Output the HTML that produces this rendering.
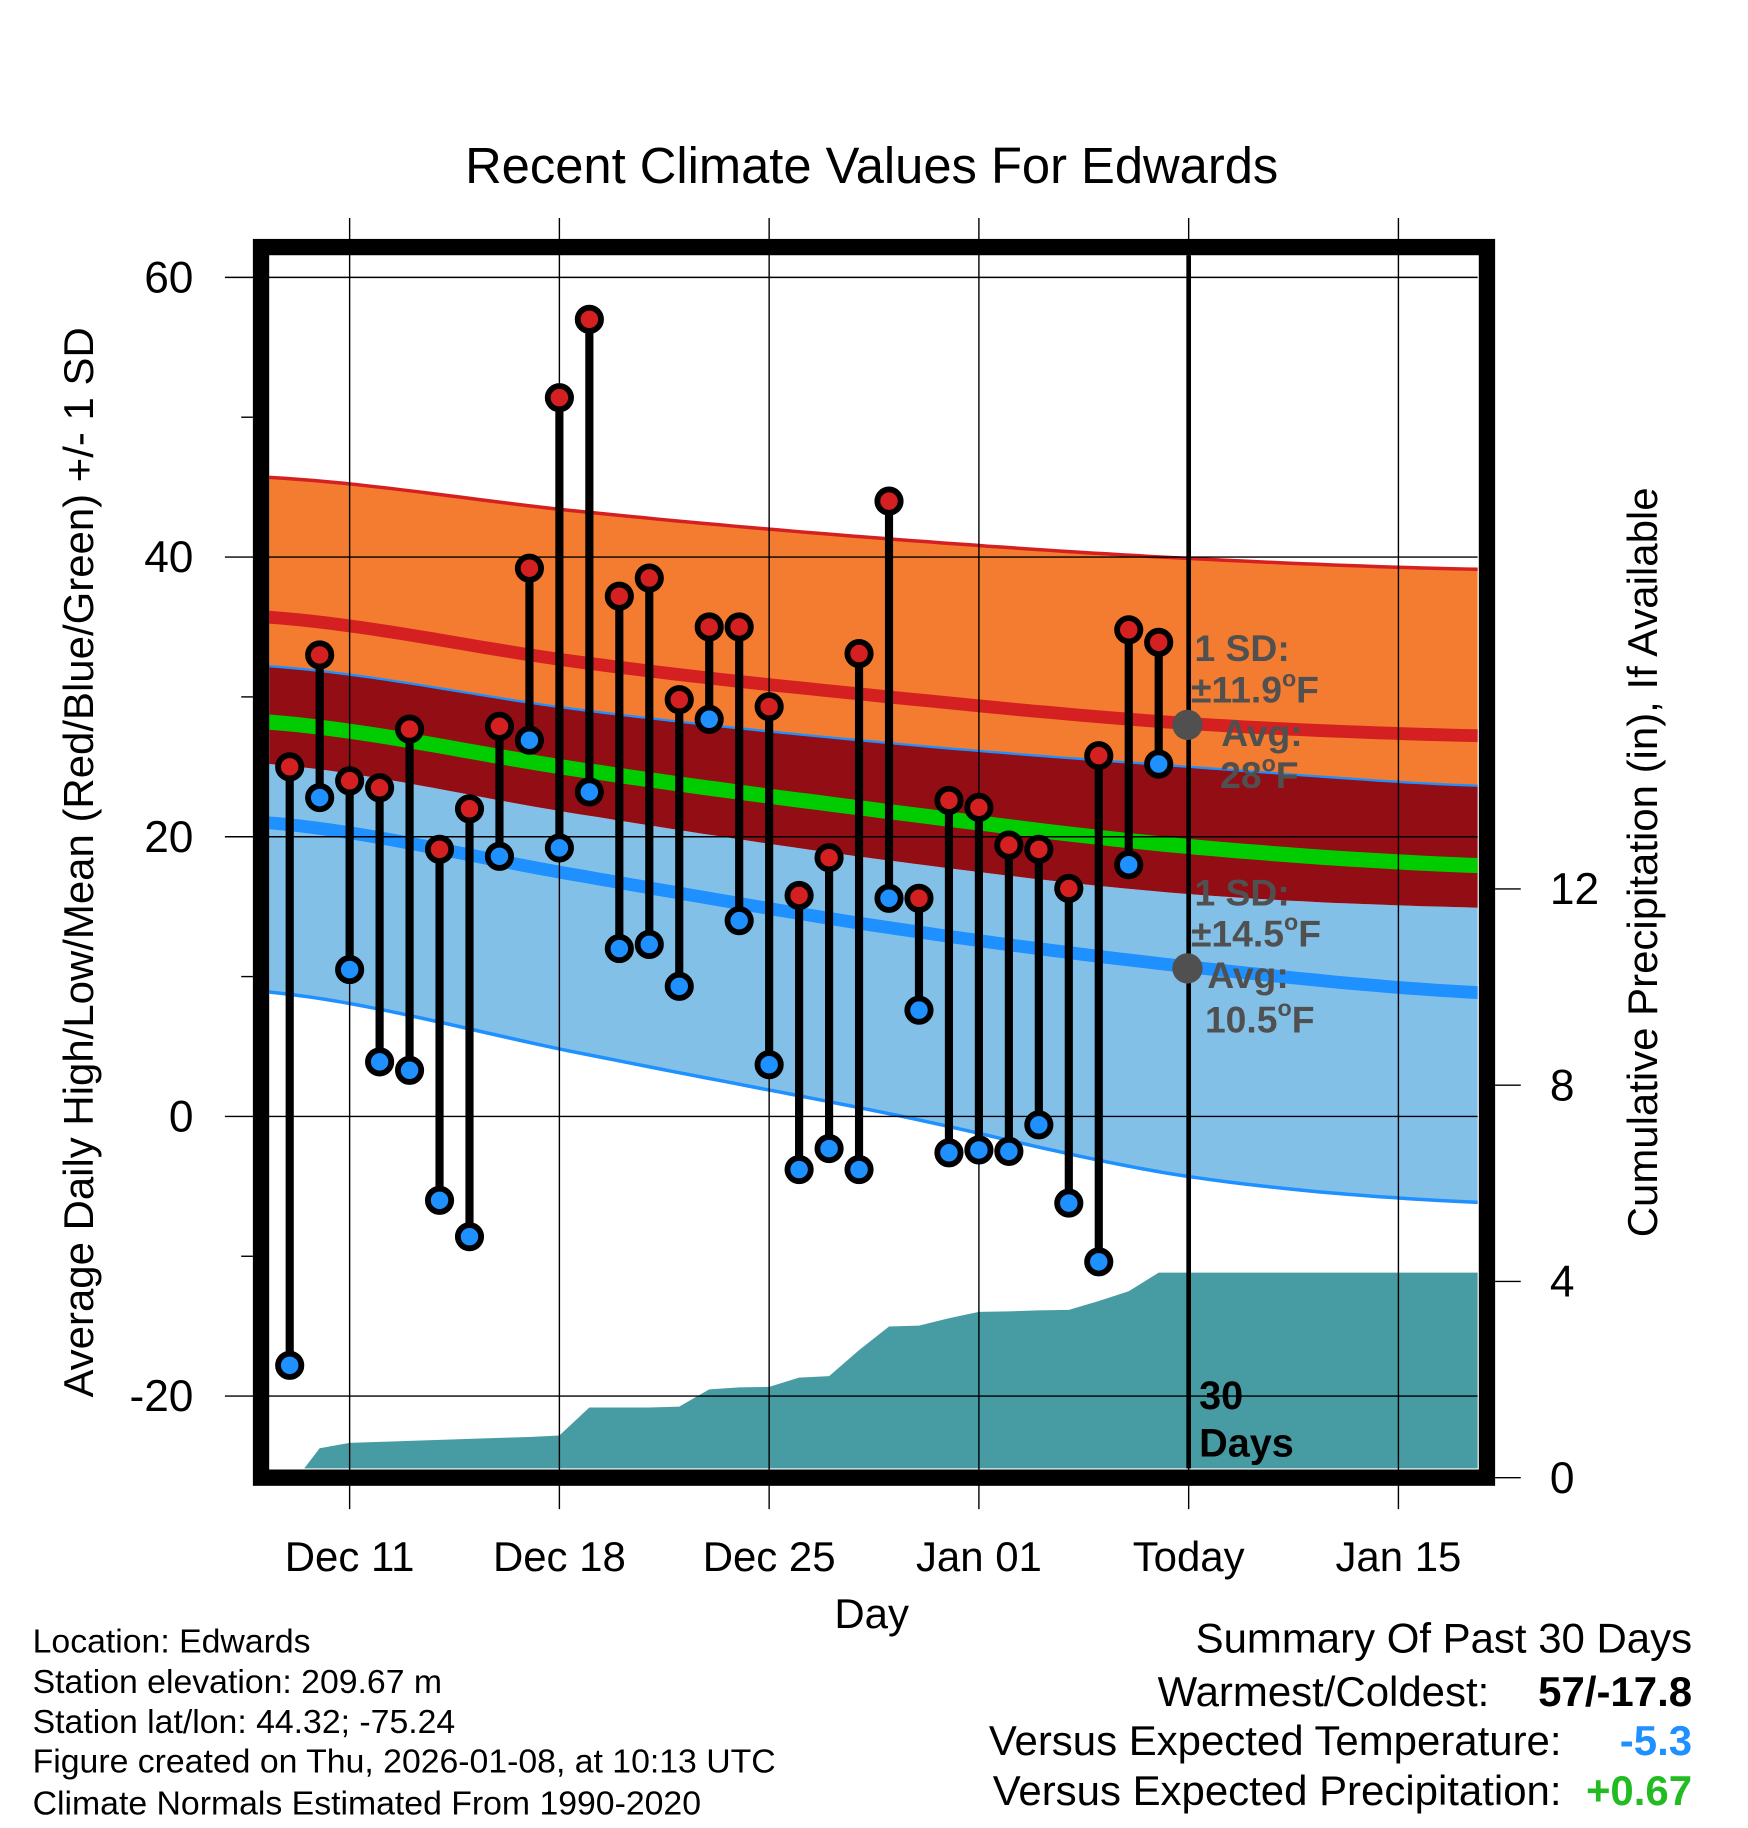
<!DOCTYPE html>
<html><head><meta charset="utf-8"><style>
html,body{margin:0;padding:0;background:#fff}
svg{display:block}
text{font-family:"Liberation Sans",Arial,sans-serif}
</style></head><body>
<svg id="chart" width="1748" height="1828" viewBox="0 0 1500 1568.6" xmlns="http://www.w3.org/2000/svg">
<defs><clipPath id="plotclip"><rect x="231" y="219" width="1037" height="1041"/></clipPath></defs>
<g id="bands" clip-path="url(#plotclip)"></g>
<g id="precip" clip-path="url(#plotclip)"></g>
<g id="grid"></g>
<g id="series"></g>
<g id="annot"></g>
<rect x="224" y="212" width="1052" height="1056" fill="none" stroke="#000" stroke-width="14"/>
<g id="axes"></g>
<text x="748" y="157" font-size="43.5" text-anchor="middle">Recent Climate Values For Edwards</text>
<text transform="translate(80,740) rotate(-90)" font-size="36" text-anchor="middle">Average Daily High/Low/Mean (Red/Blue/Green) +/- 1 SD</text>
<text transform="translate(1422,740) rotate(-90)" font-size="36" text-anchor="middle">Cumulative Precipitation (in), If Available</text>
<text x="748" y="1397" font-size="36" text-anchor="middle">Day</text>
<g font-size="29">
<text x="28" y="1418">Location: Edwards</text>
<text x="28" y="1453">Station elevation: 209.67 m</text>
<text x="28" y="1487">Station lat/lon: 44.32; -75.24</text>
<text x="28" y="1521">Figure created on Thu, 2026-01-08, at 10:13 UTC</text>
<text x="28" y="1557">Climate Normals Estimated From 1990-2020</text>
</g>
<g font-size="36">
<text x="1452" y="1418" text-anchor="end">Summary Of Past 30 Days</text>
<text x="1278" y="1464" text-anchor="end">Warmest/Coldest:</text>
<text x="1452" y="1464" text-anchor="end" font-weight="bold">57/-17.8</text>
<text x="1340" y="1506" text-anchor="end">Versus Expected Temperature:</text>
<text x="1452" y="1506" text-anchor="end" font-weight="bold" fill="#1e90ff">-5.3</text>
<text x="1340" y="1549" text-anchor="end">Versus Expected Precipitation:</text>
<text x="1452" y="1549" text-anchor="end" font-weight="bold" fill="#22bb22">+0.67</text>
</g>
</svg>
<script>
// data: day offsets from Dec 09
const highs=[25,33,24,23.5,27.7,19.1,22,27.9,39.2,51.4,57,37.2,38.5,29.8,35,35,29.3,15.8,18.5,33.1,44,15.6,22.6,22.1,19.4,19.1,16.3,25.8,34.8,33.9];
const lows=[-17.8,22.8,10.5,3.9,3.3,-6,-8.6,18.6,26.9,19.2,23.2,12,12.3,9.3,28.4,14.0,3.7,-3.8,-2.3,-3.8,15.6,7.6,-2.6,-2.4,-2.5,-0.6,-6.2,-10.4,18.0,25.2];
const precipCum=[-0.2,0.6,0.71,0.73,0.75,0.77,0.79,0.81,0.83,0.86,1.43,1.43,1.43,1.45,1.8,1.84,1.85,2.04,2.07,2.6,3.08,3.1,3.25,3.38,3.39,3.41,3.42,3.6,3.8,4.18];
const normDays=[-0.7,10,20,30,40.2];
const hiPlusSD=[45.7,43.2,41.3,39.9,39.1];
const normHigh=[35.7,32.4,30.0,28.1,27.2];
const hiMinusSD=[32.2,29.0,26.7,25.0,23.6];
const normMean=[28.2,24.7,21.8,19.3,17.9];
const loPlusSD=[25.2,21.5,18.3,15.9,14.9];
const normLow=[21.0,17.1,13.5,10.7,8.8];
const loMinusSD=[8.9,4.4,0.2,-4.3,-6.2];
const yTicks=[60,40,20,0,-20];
const yMinor=[50,30,10,-10];
const pTicks=[0,4,8,12];
const xTickDays=[2,9,16,23,30,37];
const xTickLabels=["Dec 11","Dec 18","Dec 25","Jan 01","Today","Jan 15"];
const todayDay=30;

const NS="http://www.w3.org/2000/svg";
const X=d=>248.6+d*25.714;
const Y=v=>958-12*v;
const P=v=>1268-42.1*v;
function mk(tag,attrs,parent){const e=document.createElementNS(NS,tag);for(const k in attrs)e.setAttribute(k,attrs[k]);parent.appendChild(e);return e;}
function interp(arr,d){
  const n=normDays.length;
  let i=0;while(i<n-2&&d>normDays[i+1])i++;
  const t=(d-normDays[i])/(normDays[i+1]-normDays[i]);
  // Catmull-Rom for smoothness
  const p0=arr[Math.max(i-1,0)],p1=arr[i],p2=arr[i+1],p3=arr[Math.min(i+2,n-1)];
  const t2=t*t,t3=t2*t;
  return 0.5*((2*p1)+(-p0+p2)*t+(2*p0-5*p1+4*p2-p3)*t2+(-p0+3*p1-3*p2+p3)*t3);
}
const fine=[];for(let d=normDays[0];d<=normDays[normDays.length-1]+0.001;d+=0.5)fine.push(d);
function linePts(arr){return fine.map(d=>X(d).toFixed(1)+","+Y(interp(arr,d)).toFixed(1));}
function band(top,bot,fill,name,par){
  const pts=linePts(top).concat(linePts(bot).reverse());
  const e=mk("polygon",{points:pts.join(" "),fill:fill},par);
  
  
}
function line(arr,col,w,name,par){
  const e=mk("polyline",{points:linePts(arr).join(" "),fill:"none",stroke:col,"stroke-width":w},par);
  
  
}
const B=document.getElementById("bands");
band(hiPlusSD,hiMinusSD,"#f47c30","high-sd-band",B);
band(loPlusSD,loMinusSD,"#82c0e8","low-sd-band",B);
band(hiMinusSD,loPlusSD,"#920d14","overlap-band",B);
line(hiPlusSD,"#d42020",3,"high-plus-sd-line",B);
line(normHigh,"#d42020",11,"normal-high-line",B);
line(hiMinusSD,"#1e90ff",2,"high-minus-sd-line",B);
line(normMean,"#00cc00",13,"normal-mean-line",B);
line(normLow,"#1e90ff",11,"normal-low-line",B);
line(loMinusSD,"#1e90ff",3,"low-minus-sd-line",B);

// precipitation
const PR=document.getElementById("precip");
let pp=[X(0).toFixed(1)+","+P(-0.5)];
precipCum.forEach((v,i)=>pp.push(X(i).toFixed(1)+","+P(v).toFixed(1)));
pp.push("1280,"+P(precipCum[precipCum.length-1]).toFixed(1));
pp.push("1280,1300");pp.push(X(0).toFixed(1)+",1300");
const pe=mk("polygon",{points:pp.join(" "),fill:"#479ba3"},PR);



// grid
const G=document.getElementById("grid");
yTicks.forEach(v=>{const e=mk("line",{x1:193,x2:1268,y1:Y(v),y2:Y(v),stroke:"#000","stroke-width":1.2},G);
  
  });
xTickDays.forEach(d=>{const e=mk("line",{x1:X(d),x2:X(d),y1:187,y2:1295,stroke:"#000","stroke-width":1.2},G);
  
  });
const tl=mk("line",{x1:X(todayDay),x2:X(todayDay),y1:219,y2:1260,stroke:"#000","stroke-width":4},G);



// series
const S=document.getElementById("series");
highs.forEach((h,i)=>{const e=mk("line",{x1:X(i),x2:X(i),y1:Y(h),y2:Y(lows[i]),stroke:"#000","stroke-width":7},S);
  
  });
highs.forEach((h,i)=>{const e=mk("circle",{cx:X(i),cy:Y(h),r:10,fill:"#d42020",stroke:"#000","stroke-width":5},S);
  
  });
lows.forEach((l,i)=>{const e=mk("circle",{cx:X(i),cy:Y(l),r:10,fill:"#1e90ff",stroke:"#000","stroke-width":5},S);
  
  });

// annotations
const A=document.getElementById("annot");
A.innerHTML=`
<circle cx="1019" cy="622" r="13" fill="#505050"/>
<circle cx="1019" cy="831" r="13" fill="#505050"/>
<g font-size="32" font-weight="bold" fill="#505050">
<text x="1025" y="567">1 SD:</text>
<text x="1022" y="603">±11.9<tspan font-size="20" dy="-14">o</tspan><tspan dy="14">F</tspan></text>
<text x="1048" y="640">Avg:</text>
<text x="1047" y="676">28<tspan font-size="20" dy="-14">o</tspan><tspan dy="14">F</tspan></text>
<text x="1025" y="777">1 SD:</text>
<text x="1022" y="812">±14.5<tspan font-size="20" dy="-14">o</tspan><tspan dy="14">F</tspan></text>
<text x="1036" y="848">Avg:</text>
<text x="1034" y="886">10.5<tspan font-size="20" dy="-14">o</tspan><tspan dy="14">F</tspan></text>
</g>
<g font-size="34" font-weight="bold" fill="#000">
<text x="1029" y="1209">30</text>
<text x="1029" y="1250">Days</text>
</g>`;

// axes
const AX=document.getElementById("axes");
yTicks.forEach(v=>{const t=mk("text",{x:166,y:Y(v)+13,"font-size":38,"text-anchor":"end"},AX);t.textContent=v;
  
  });
yMinor.forEach(v=>{const e=mk("line",{x1:207,x2:217,y1:Y(v),y2:Y(v),stroke:"#000","stroke-width":1.2},AX);
  
  });
pTicks.forEach(v=>{const e=mk("line",{x1:1283,x2:1305,y1:P(v),y2:P(v),stroke:"#000","stroke-width":1.2},AX);
  
  
  const t=mk("text",{x:1330,y:P(v)+13,"font-size":38},AX);t.textContent=v;
  
  });
xTickDays.forEach((d,i)=>{const t=mk("text",{x:X(d),y:1348,"font-size":36,"text-anchor":"middle"},AX);t.textContent=xTickLabels[i];
  
  });
</script>
</body></html>
